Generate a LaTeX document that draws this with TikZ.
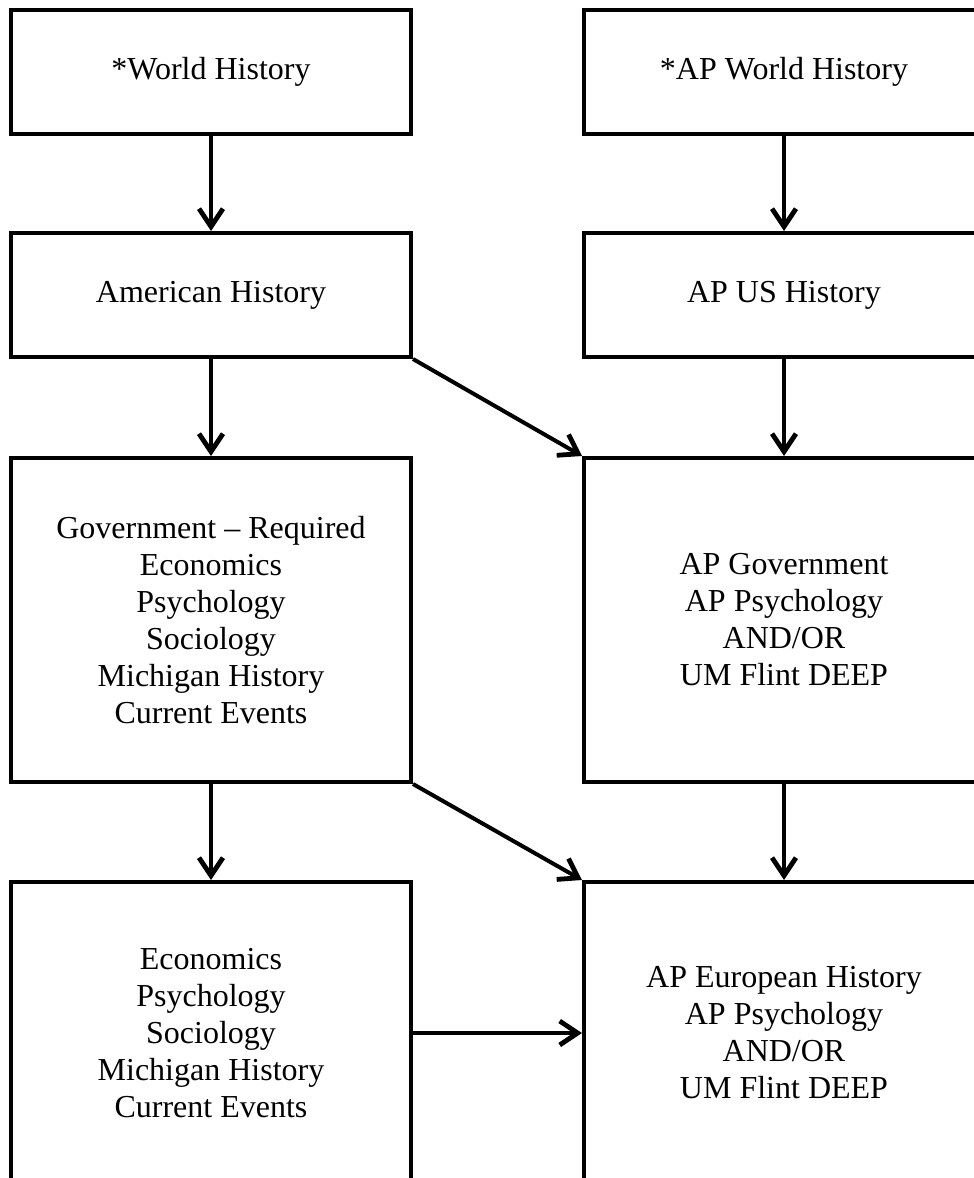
\documentclass[tikz,border=0pt]{standalone}
\usepackage{fontspec}
\setmainfont{Liberation Serif}
\usetikzlibrary{arrows.meta}

\tikzset{
  course/.style={draw, line width=2pt, align=center, minimum width=200pt,
    inner sep=0pt, font=\fontsize{16}{18.5}\selectfont},
  link/.style={line width=2pt, -{Straight Barb[length=9pt,width=12pt,line width=2.4pt]}}
}

\begin{document}
\begin{tikzpicture}[x=0.5pt, y=-0.5pt]

\useasboundingbox (0,0) rectangle (974,1178);
\clip (0,0) rectangle (974,1178);

% Top row
\node[course, minimum height=62pt] (world) at (211,72) {*World History};
\node[course, minimum height=62pt] (apworld) at (784,72) {*AP World History};

% Second row
\node[course, minimum height=62pt] (amer) at (211,295) {American History};
\node[course, minimum height=62pt] (apus) at (784,295) {AP US History};

% Third row
\node[course, minimum height=162pt] (gov) at (211,620)
  {Government -- Required\\Economics\\Psychology\\Sociology\\Michigan History\\Current Events};
\node[course, minimum height=162pt] (apgov) at (784,620)
  {AP Government\\AP Psychology\\AND/OR\\UM Flint DEEP};

% Bottom row
\node[course, minimum height=151pt] (elect) at (211,1033)
  {Economics\\Psychology\\Sociology\\Michigan History\\Current Events};
\node[course, minimum height=151pt] (apeuro) at (784,1033)
  {AP European History\\AP Psychology\\AND/OR\\UM Flint DEEP};

% Arrows
\draw[link] (world) -- (amer);
\draw[link] (apworld) -- (apus);
\draw[link] (amer) -- (gov);
\draw[link] (apus) -- (apgov);
\draw[link] (amer.south east) -- (apgov.north west);
\draw[link] (gov) -- (elect);
\draw[link] (apgov) -- (apeuro);
\draw[link] (gov.south east) -- (apeuro.north west);
\draw[link] (elect) -- (apeuro);

\end{tikzpicture}
\end{document}
